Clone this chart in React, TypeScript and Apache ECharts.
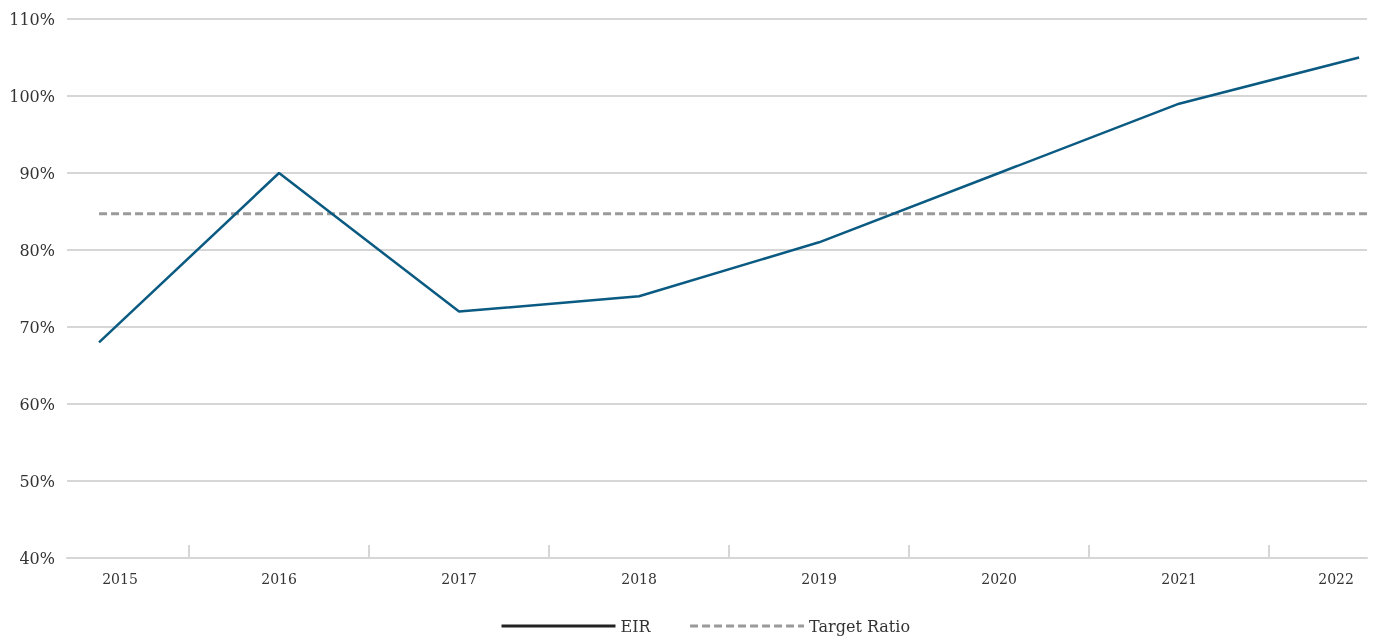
import React, { useEffect, useRef } from "react";
import * as echarts from "echarts";

const years = ["2015", "2016", "2017", "2018", "2019", "2020", "2021", "2022"];
const eir = [68, 90, 72, 74, 81, 90, 99, 105];
const targetRatio = 84.7;
const yTicks = { min: 40, max: 110, interval: 10 };
const xRange = { min: -0.178, max: 7.044 };

export default function App() {
  const ref = useRef<HTMLDivElement>(null);
  useEffect(() => {
    if (!ref.current) return;
    const chart = echarts.init(ref.current, null, { renderer: "svg" });
    const font = "DejaVu Serif";
    const gridColor = "#d6d6d6";
    chart.setOption({
      animation: false,
      grid: { left: 67, right: 10, top: 19, bottom: 78 },
      xAxis: {
        type: "value",
        min: xRange.min,
        max: xRange.max,
        splitLine: { show: false },
        axisLine: { show: true, lineStyle: { color: gridColor, width: 2 } },
        axisTick: {
          show: true,
          inside: true,
          length: 13,
          lineStyle: { color: gridColor, width: 2 },
          customValues: years.slice(1).map((_, i) => i + 0.5),
        },
        axisLabel: {
          customValues: years.map((_, i) => i),
          margin: 14,
          color: "#333",
          fontFamily: font,
          fontSize: 14,
          formatter: (v: number) => {
            const i = Math.round(v);
            if (i === 0) return `{first|${years[i]}}`;
            if (i === years.length - 1) return `{last|${years[i]}}`;
            return years[i] ?? "";
          },
          rich: {
            first: { padding: [0, 0, 0, 42], fontFamily: font, fontSize: 14, color: "#333" },
            last: { padding: [0, 46, 0, 0], fontFamily: font, fontSize: 14, color: "#333" },
          },
        },
      },
      yAxis: {
        type: "value",
        min: yTicks.min,
        max: yTicks.max,
        interval: yTicks.interval,
        axisLine: { show: false },
        axisTick: { show: false },
        splitLine: { lineStyle: { color: gridColor, width: 2 } },
        axisLabel: {
          formatter: "{value}%",
          margin: 12,
          color: "#333",
          fontFamily: font,
          fontSize: 16,
        },
      },
      legend: {
        left: 495,
        top: 613,
        itemWidth: 114,
        itemHeight: 14,
        itemGap: 38,
        textStyle: { color: "#333", fontFamily: font, fontSize: 16 },
        data: [
          {
            name: "EIR",
            lineStyle: { color: "#222", width: 3 },
            itemStyle: { color: "#222", opacity: 0 },
          },
          {
            name: "Target Ratio",
            lineStyle: { color: "#9a9a9a", width: 3, type: [8, 4] },
            itemStyle: { color: "#9a9a9a", opacity: 0 },
          },
        ],
      },
      series: [
        {
          name: "EIR",
          type: "line",
          symbol: "none",
          lineStyle: { color: "#0a5a82", width: 2.5 },
          itemStyle: { color: "#0a5a82" },
          data: eir.map((v, i) => [i, v]),
          z: 3,
        },
        {
          name: "Target Ratio",
          type: "line",
          symbol: "none",
          lineStyle: { color: "#9a9a9a", width: 3, type: [8, 4] },
          itemStyle: { color: "#9a9a9a" },
          data: [
            [0, targetRatio],
            [xRange.max, targetRatio],
          ],
          z: 2,
        },
      ],
    });
    return () => chart.dispose();
  }, []);
  return (
    <div
      ref={ref}
      style={{ position: "fixed", left: 0, top: 0, width: 1377, height: 636 }}
    />
  );
}
